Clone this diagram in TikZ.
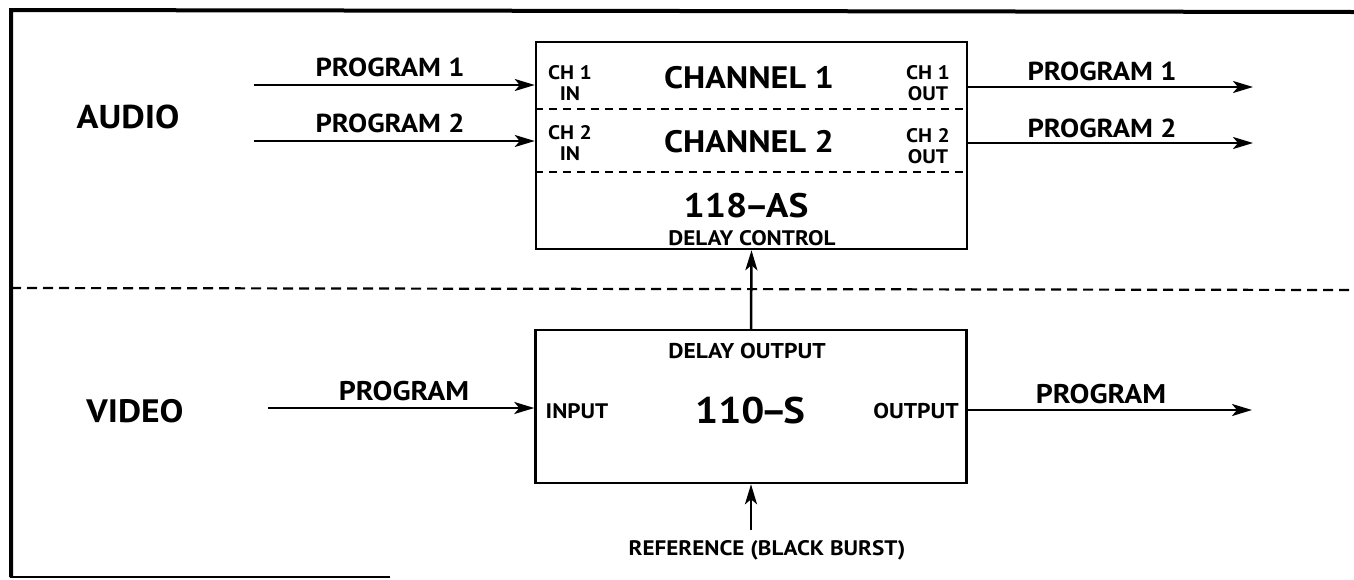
\documentclass[tikz,border=0pt]{standalone}
\usepackage{fontspec}
\setmainfont[FakeStretch=1.1]{PT Sans}
\usetikzlibrary{arrows.meta}
\begin{document}
\begin{tikzpicture}[x=0.5pt,y=-0.5pt,
  arr/.style={-{Stealth[length=10pt,width=6pt,inset=2.5pt]}, line width=1.25pt},
  box/.style={draw, line width=1.25pt, inner sep=0, minimum width=215.5pt},
  sep/.style={dashed, dash pattern=on 5pt off 3pt, line width=1.1pt},
  txt/.style={inner sep=0, anchor=base, font=\bfseries\fontsize{#1}{#1}\selectfont},
  tiny/.style={inner sep=0, anchor=base, align=center, font=\bfseries\fontsize{9.8}{10.5}\selectfont}]
\useasboundingbox (0,0) rectangle (1354,579);
% frame
\draw[line width=2pt] (1354,12) -- (11,10) -- (11,577);
\draw[line width=1pt] (10,577) -- (390,577);
\draw[sep] (11,288) -- (1354,290);
% boxes
\node[box, minimum height=103.5pt] (abox) at (751.5,145.5) {};
\node[box, minimum height=76.5pt] (vbox) at (751,406.5) {};
\draw[dashed, dash pattern=on 4pt off 3pt, line width=1pt] (abox.west |- 0,109) -- (abox.east |- 0,109);
\draw[dashed, dash pattern=on 4pt off 3pt, line width=1pt] (abox.west |- 0,172) -- (abox.east |- 0,172);
% section labels
\node[txt=16.5] (audio) at (128,128) {AUDIO};
\node[txt=16.2] (video) at (135,422) {VIDEO};
% audio box texts
\node[tiny] (ch1in) at (570,100) {CH 1\\IN};
\node[tiny] (ch2in) at (570,160) {CH 2\\IN};
\node[tiny] (ch1out) at (928,100) {CH 1\\OUT};
\node[tiny] (ch2out) at (928,163) {CH 2\\OUT};
\node[txt=15.5] (chan1) at (749,88) {CHANNEL 1};
\node[txt=15.5] (chan2) at (749,152) {CHANNEL 2};
\node[txt=17] (as) at (746,217) {118\kern-1.5pt–\kern-1.5pt AS};
\node[txt=10.5] (dc) at (752,245) {DELAY CONTROL};
% video box texts
\node[txt=10.7] (dout) at (747,358) {DELAY OUTPUT};
\node[txt=18.5] (s) at (750,423) {110\kern-2pt–\kern-2pt S};
\node[txt=10.5] (inp) at (577,418) {INPUT};
\node[txt=10.7] (outp) at (916,418) {OUTPUT};
% connector labels
\node[txt=13] (lp1i) at (390,76) {PROGRAM 1};
\node[txt=13] (lp2i) at (390,132) {PROGRAM 2};
\node[txt=13] (lp1o) at (1102,80) {PROGRAM 1};
\node[txt=13] (lp2o) at (1102,137) {PROGRAM 2};
\node[txt=13.5] (lpvi) at (404,400) {PROGRAM};
\node[txt=13.5] (lpvo) at (1101,403) {PROGRAM};
\node[txt=10.5] (ref) at (767,555) {REFERENCE (BLACK BURST)};
% connector ends
\coordinate (i1) at (254,85);
\coordinate (i2) at (254,141);
\coordinate (o1) at (1253,87);
\coordinate (o2) at (1253,143);
\coordinate (vi) at (268,408);
\coordinate (vo) at (1252,410);
\coordinate (rf) at (751,530);
% connectors
\draw[arr] (i1) -- (i1 -| abox.west);
\draw[arr] (i2) -- (i2 -| abox.west);
\draw[arr] (o1 -| abox.east) -- (o1);
\draw[arr] (o2 -| abox.east) -- (o2);
\draw[arr] (vi) -- (vi -| vbox.west);
\draw[arr] (vo -| vbox.east) -- (vo);
\draw[arr] (vbox.north) -- (abox.south);
\draw[arr] (rf) -- (rf |- vbox.south);
\end{tikzpicture}
\end{document}
